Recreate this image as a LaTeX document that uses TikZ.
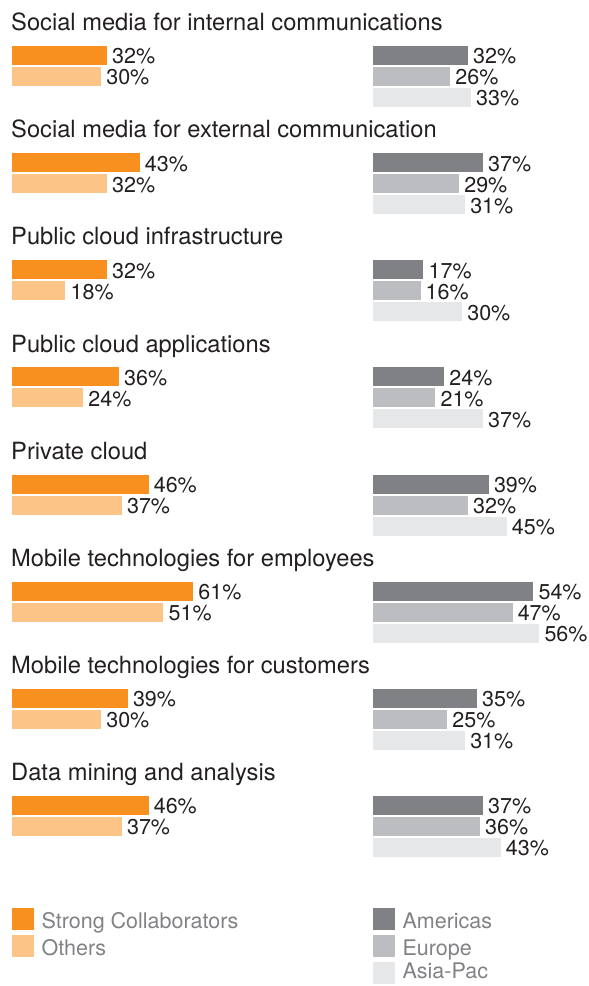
\documentclass[tikz,border=0pt]{standalone}
\usepackage{fontspec}
\setmainfont{TeX Gyre Heros}
\usetikzlibrary{positioning}
\definecolor{scorange}{HTML}{F7901E}
\definecolor{otorange}{HTML}{FCC487}
\definecolor{amgrey}{HTML}{808184}
\definecolor{eugrey}{HTML}{BBBDC0}
\definecolor{apgrey}{HTML}{E6E7E8}
\definecolor{txtblack}{HTML}{231F20}
\definecolor{keygrey}{HTML}{808285}

\begin{document}
\begin{tikzpicture}[x=1pt, y=1pt]
    \tikzstyle{bar} = [shape=rectangle, inner sep=0pt, outer sep=0pt, minimum height=19pt, anchor=north west]
    \tikzstyle{pct} = [inner sep=0pt, text=txtblack, font=\fontsize{21.5}{24}\selectfont, yshift=-1pt]
    \tikzstyle{head} = [inner sep=0pt, anchor=base west, text=txtblack, font=\fontsize{23.7}{28}\selectfont]
    \tikzstyle{key} = [shape=rectangle, inner sep=0pt, minimum size=22pt, anchor=north west]
    \tikzstyle{keytxt} = [inner sep=0pt, anchor=base west, text=keygrey, font=\fontsize{21.5}{24}\selectfont]
    \useasboundingbox (0,0) rectangle (589,-986);

    % one block per technology: left = collaborators, right = regions
    \foreach \i/\title/\sc/\ot/\am/\eu/\ap in {
        0/Social media for internal communications/32/30/32/26/33,
        1/Social media for external communication/43/32/37/29/31,
        2/Public cloud infrastructure/32/18/17/16/30,
        3/Public cloud applications/36/24/24/21/37,
        4/Private cloud/46/37/39/32/45,
        5/Mobile technologies for employees/61/51/54/47/56,
        6/Mobile technologies for customers/39/30/35/25/31,
        7/Data mining and analysis/46/37/37/36/43} {
        \node (t\i) [head] at (11, {-30.7-107.14*\i}) {\title};
        \node (sc\i) [bar, fill=scorange, minimum width=\sc*2.97pt] at (12, {-46-107.14*\i}) {};
        \node (ot\i) [bar, fill=otorange, minimum width=\ot*2.97pt] at (12, {-67-107.14*\i}) {};
        \node (am\i) [bar, fill=amgrey, minimum width=\am*2.97pt] at (373, {-46-107.14*\i}) {};
        \node (eu\i) [bar, fill=eugrey, minimum width=\eu*2.97pt] at (373, {-67-107.14*\i}) {};
        \node (ap\i) [bar, fill=apgrey, minimum width=\ap*2.97pt] at (373, {-88-107.14*\i}) {};
        \node (scl\i) [pct, right=5pt of sc\i] {\sc\%};
        \node (otl\i) [pct, right=5pt of ot\i] {\ot\%};
        \node (aml\i) [pct, right=5pt of am\i] {\am\%};
        \node (eul\i) [pct, right=5pt of eu\i] {\eu\%};
        \node (apl\i) [pct, right=5pt of ap\i] {\ap\%};
    }

    % legend
    \node (ksc) [key, fill=scorange] at (12, -908) {};
    \node (kot) [key, fill=otorange] at (12, -935) {};
    \node (kam) [key, fill=amgrey] at (373, -908) {};
    \node (keu) [key, fill=eugrey] at (373, -935) {};
    \node (kap) [key, fill=apgrey] at (373, -962) {};
    \node (kscl) [keytxt] at ([xshift=7pt, yshift=1.5pt]ksc.south east) {Strong Collaborators};
    \node (kotl) [keytxt] at ([xshift=7pt, yshift=1.5pt]kot.south east) {Others};
    \node (kaml) [keytxt] at ([xshift=7pt, yshift=1.5pt]kam.south east) {Americas};
    \node (keul) [keytxt] at ([xshift=7pt, yshift=1.5pt]keu.south east) {Europe};
    \node (kapl) [keytxt] at ([xshift=7pt, yshift=5.5pt]kap.south east) {Asia-Pac};
\end{tikzpicture}
\end{document}
